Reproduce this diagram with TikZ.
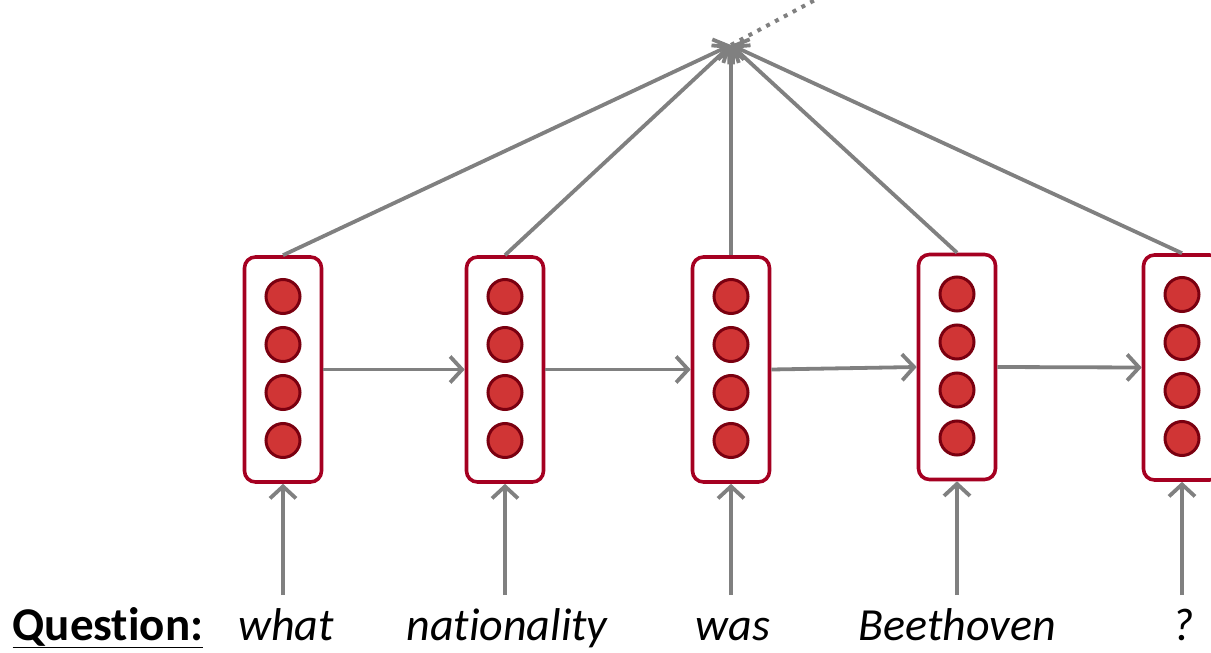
\documentclass[tikz,border=0pt]{standalone}
\usepackage{fontspec}
\setmainfont[Ligatures=NoCommon]{Carlito}
\usetikzlibrary{arrows.meta}
\definecolor{linegray}{HTML}{808080}
\definecolor{boxred}{HTML}{A50021}
\definecolor{dotfill}{HTML}{D03535}
\definecolor{dotedge}{HTML}{7A0010}
\tikzset{
  vecbox/.style={draw=boxred, line width=3.6pt, rounded corners=11pt, minimum width=77pt, minimum height=225pt, inner sep=0pt, fill=white},
  unit/.style={circle, draw=dotedge, line width=3pt, fill=dotfill, minimum size=34pt, inner sep=0pt},
  arr/.style={draw=linegray, line width=3.8pt, -{Straight Barb[length=12pt,width=26pt,line width=3.8pt]}},
  word/.style={anchor=base, font=\fontsize{46}{52}\selectfont\itshape},
}
\begin{document}
\begin{tikzpicture}[x=1pt,y=-1pt]
\useasboundingbox (0,0) rectangle (1211,653);
% boxes
\foreach \i/\x/\y in {1/283/369.5, 2/505/369.5, 3/731/369.5, 4/957/367, 5/1182/367.5}{
  \node[vecbox] (b\i) at (\x,\y) {};
  \foreach \j/\dy in {1/-73, 2/-25, 3/23, 4/71}{
    \node[unit] (u\i\j) at (\x,\y+\dy) {};
  }
}
% top
\coordinate (top) at (731,45);
\coordinate (far) at (815,0);
\draw[linegray, line width=4pt, dash pattern=on 4pt off 6pt] (top) -- (far);
\foreach \i in {1,...,5}{
  \draw[arr] (b\i.north) -- (top);
}
% horizontal
\draw[arr] (b1.east) -- (b2.west);
\draw[arr] (b2.east) -- (b3.west);
\draw[arr] (b3.east) -- (b4.west);
\draw[arr] (b4.east) -- (b5.west);
% words
\node[anchor=base west, font=\fontsize{47}{52}\selectfont\bfseries] (q) at (9,640) {\underline{Question:}};
\node[word] (w1) at (286,640) {what};
\node[word] (w2) at (507,640) {nationality};
\node[word] (w3) at (733,640) {was};
\node[word] (w4) at (957,640) {Beethoven};
\node[word] (w5) at (1183,640) {?};
\foreach \i/\x in {1/283, 2/505, 3/731, 4/957, 5/1182}{
  \coordinate (s\i) at (\x,595);
  \draw[arr] (s\i) -- (b\i.south);
}
\end{tikzpicture}
\end{document}
